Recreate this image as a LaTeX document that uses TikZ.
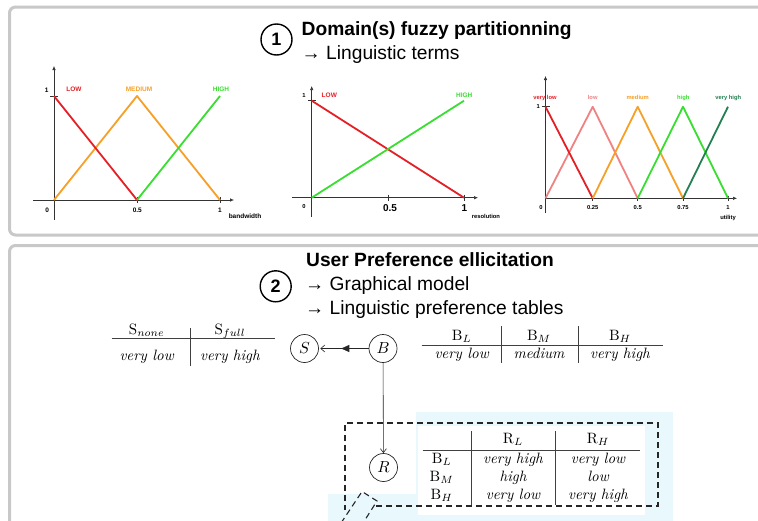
\documentclass[tikz,border=0pt]{standalone}
\usepackage{fontspec}
\usepackage{graphicx}
\newfontfamily\hv{Liberation Sans}
\usetikzlibrary{arrows.meta,decorations.markings}
\definecolor{cred}{RGB}{228,32,38}
\definecolor{corange}{RGB}{246,160,40}
\definecolor{cgreen}{RGB}{56,222,48}
\definecolor{cpink}{RGB}{240,130,130}
\definecolor{cdkgreen}{RGB}{36,128,82}
\definecolor{panelgray}{RGB}{200,200,200}
\definecolor{glow}{RGB}{232,248,252}
\newcommand\tcell[1]{\scalebox{1.5}{\fontsize{10}{12}\selectfont #1}}
\newcommand\vlab[1]{\scalebox{1.6}{\fontsize{10}{12}\selectfont $#1$}}
\begin{document}
\begin{tikzpicture}[x=1pt,y=-1pt,
  panel/.style={draw=panelgray,line width=3pt,rounded corners=6pt},
  axis/.style={draw=black!80,line width=0.6pt},
  axarrow/.style={axis,-{Latex[length=4pt,width=3.5pt]}},
  tickline/.style={draw=black!80,line width=0.6pt},
  curve/.style={line width=1.8pt,line join=round},
  clab/.style={font=\hv\bfseries\fontsize{6.5}{7}\selectfont,inner sep=0},
  slab/.style={font=\hv\bfseries\fontsize{5.8}{6.5}\selectfont,inner sep=0},
  blab/.style={font=\hv\bfseries\fontsize{10}{11}\selectfont,inner sep=0},
  head/.style={anchor=base west,inner sep=0,font=\hv\bfseries\fontsize{19.2}{22}\selectfont},
  sub/.style={anchor=base west,inner sep=0,font=\hv\fontsize{19.2}{22}\selectfont},
  num/.style={circle,draw,line width=1.4pt,minimum size=31pt,inner sep=0,font=\hv\bfseries\fontsize{18}{20}\selectfont},
  var/.style={circle,draw=black!85,line width=0.7pt,minimum size=28pt,inner sep=0},
  cell/.style={anchor=base,inner sep=0},
  rule/.style={draw=black!75,line width=0.6pt},
  edge/.style={draw=black!85,line width=0.6pt},
  dashbox/.style={draw=black!85,line width=1.1pt,dash pattern=on 6pt off 4pt}]
\path[clip] (0,0) rectangle (758,520);
\fill[white] (0,0) rectangle (758,520);
% panels
\draw[panel] (9.5,7) rectangle (780,235);
\draw[panel] (9.5,245.5) rectangle (780,560);
% glow areas
\fill[glow] (416,411.5) rectangle (673,530);
\fill[glow] (328,494) rectangle (418,530);
\fill[white] (418,426) rectangle (645,515);

% ---------- section 1 heading
\node[num] (n1) at (276.5,39.5) {1};
\node[head] (t1) at (301.5,35) {Domain(s) fuzzy partitionning};
\node[sub] (t1b) at (301.5,59.3) {→ Linguistic terms};

% ---------- chart 1 (bandwidth)
\draw[axarrow] (54,220) -- (54,66);
\draw[axarrow] (33,200) -- (234,200);
\draw[tickline] (50,96) -- (58,96);
\draw[tickline] (137,197) -- (137,203);
\draw[tickline] (220,197) -- (220,203);
\draw[curve,corange] (54,200) -- (137,96) -- (220,200);
\draw[curve,cred] (54,96) -- (137,200);
\draw[curve,cgreen] (137,200) -- (220,96);
\node[clab,cred] (c1l) at (74,89.3) {LOW};
\node[clab,corange] (c1m) at (139,89.3) {MEDIUM};
\node[clab,cgreen] (c1h) at (221,89.3) {HIGH};
\node[clab] (c1y1) at (46.7,90) {1};
\node[clab] (c1x0) at (47.3,210) {0};
\node[clab] (c1x5) at (137.3,210) {0.5};
\node[clab] (c1x1) at (220,210) {1};
\node[clab] (c1t) at (245,215.7) {bandwidth};

% ---------- chart 2 (resolution)
\draw[axarrow] (311.7,217) -- (311.7,86);
\draw[axarrow] (292,197.7) -- (478,197.7);
\draw[tickline] (308,100.7) -- (316,100.7);
\draw[tickline] (388,194.5) -- (388,201);
\draw[tickline] (464,194.5) -- (464,201);
\draw[curve,cred] (311.7,100.7) -- (464,197.7);
\draw[curve,cgreen] (311.7,197.7) -- (464,100.7);
\node[clab,cred] (c2l) at (329.3,95) {LOW};
\node[clab,cgreen] (c2h) at (464.3,95) {HIGH};
\node[slab] (c2y1) at (304,96) {1};
\node[slab] (c2x0) at (304,206.7) {0};
\node[blab] (c2x5) at (390,208.3) {0.5};
\node[blab] (c2x1) at (464.3,208) {1};
\node[slab] (c2t) at (486,216.7) {resolution};

% ---------- chart 3 (utility)
\draw[axarrow] (545.5,213) -- (545.5,76);
\draw[axarrow] (545.5,198.3) -- (737,198.3);
\draw[tickline] (541.5,106.7) -- (550,106.7);
\foreach \xx in {592.7,637.7,683,728} \draw[tickline] (\xx,195.5) -- (\xx,201);
\draw[curve,cpink] (545.5,198.3) -- (592.7,106.7) -- (637.7,198.3);
\draw[curve,cred] (545.5,106.7) -- (592.7,198.3);
\draw[curve,corange] (592.7,198.3) -- (637.7,106.7) -- (683,198.3);
\draw[curve,cgreen] (637.7,198.3) -- (683,106.7) -- (728,198.3);
\draw[curve,cdkgreen] (683,198.3) -- (728,106.7);
\node[slab,cred] (c3vl) at (545,97.7) {very low};
\node[slab,cpink] (c3l) at (592.7,97.7) {low};
\node[slab,corange] (c3m) at (637.7,97.7) {medium};
\node[slab,cgreen] (c3h) at (683.3,97.7) {high};
\node[slab,cdkgreen] (c3vh) at (728.3,97.7) {very high};
\node[slab] (c3y1) at (538.3,106.7) {1};
\node[slab] (c3x0) at (541,207) {0};
\node[slab] (c3x1) at (592.7,207) {0.25};
\node[slab] (c3x2) at (637.7,207) {0.5};
\node[slab] (c3x3) at (683,207) {0.75};
\node[slab] (c3x4) at (728,207) {1};
\node[slab] (c3t) at (728,218) {utility};

% ---------- section 2 heading
\node[num] (n2) at (275.7,286.3) {2};
\node[head] (t2) at (306,266.7) {User Preference ellicitation};
\node[sub] (t2b) at (305,290.7) {→ Graphical model};
\node[sub] (t2c) at (305,314.3) {→ Linguistic preference tables};

% ---------- graph
\node[var] (S) at (304.5,348.5) {\vlab{S}};
\node[var] (B) at (383,348.5) {\vlab{B}};
\node[var] (R) at (383.5,467.5) {\vlab{R}};
\draw[edge,-{Straight Barb[length=4pt,width=7pt]},shorten >=1.5pt,
  postaction={decorate},
  decoration={markings,mark=at position 0.55 with {\arrow{Triangle[length=8pt,width=7pt]}}}]
  (B) -- (S);
\draw[edge,-{Straight Barb[length=4pt,width=6pt]}] (B) -- (R);

% ---------- table S
\node[cell] (sn) at (146.7,334.5) {\tcell{$\mathrm{S}_{none}$}};
\node[cell] (sf) at (230,334.5) {\tcell{$\mathrm{S}_{full}$}};
\node[cell] (svl) at (146.7,360.5) {\tcell{\itshape very low}};
\node[cell] (svh) at (230,360.5) {\tcell{\itshape very high}};
\draw[rule] (111.7,338) -- (275,338);
\draw[rule] (190.7,328) -- (190.7,366);

% ---------- table B
\node[cell] (bl) at (461.7,340.5) {\tcell{$\mathrm{B}_{L}$}};
\node[cell] (bm) at (539,340.5) {\tcell{$\mathrm{B}_{M}$}};
\node[cell] (bh) at (620,340.5) {\tcell{$\mathrm{B}_{H}$}};
\node[cell] (bvl) at (461.7,358.5) {\tcell{\itshape very low}};
\node[cell] (bme) at (539,358.5) {\tcell{\itshape medium}};
\node[cell] (bvh) at (620,358.5) {\tcell{\itshape very high}};
\draw[rule] (421.7,345) -- (662.7,345);
\draw[rule] (501.7,326) -- (501.7,363);
\draw[rule] (578.3,326) -- (578.3,363);

% ---------- table R
\node[cell] (rl) at (513,443.3) {\tcell{$\mathrm{R}_{L}$}};
\node[cell] (rh) at (598,443.3) {\tcell{$\mathrm{R}_{H}$}};
\node[cell] (r1) at (441.7,463.3) {\tcell{$\mathrm{B}_{L}$}};
\node[cell] (r2) at (441.7,481.5) {\tcell{$\mathrm{B}_{M}$}};
\node[cell] (r3) at (441.7,499.5) {\tcell{$\mathrm{B}_{H}$}};
\node[cell] (r1a) at (513,463.3) {\tcell{\itshape very high}};
\node[cell] (r1b) at (598,463.3) {\tcell{\itshape very low}};
\node[cell] (r2a) at (513,481.5) {\tcell{\itshape high}};
\node[cell] (r2b) at (598,481.5) {\tcell{\itshape low}};
\node[cell] (r3a) at (513,499.5) {\tcell{\itshape very low}};
\node[cell] (r3b) at (598,499.5) {\tcell{\itshape very high}};
\draw[rule] (422.7,450) -- (640,450);
\draw[rule] (471,431) -- (471,505);
\draw[rule] (555.7,431) -- (555.7,505);

% ---------- dashed frame
\draw[dashbox] (376,506) -- (658,506) -- (658,423) -- (345,423) -- (345,510);
\draw[dashbox] (341,523) -- (362,491.5) -- (377,501) -- (363,523);
\end{tikzpicture}
\end{document}
